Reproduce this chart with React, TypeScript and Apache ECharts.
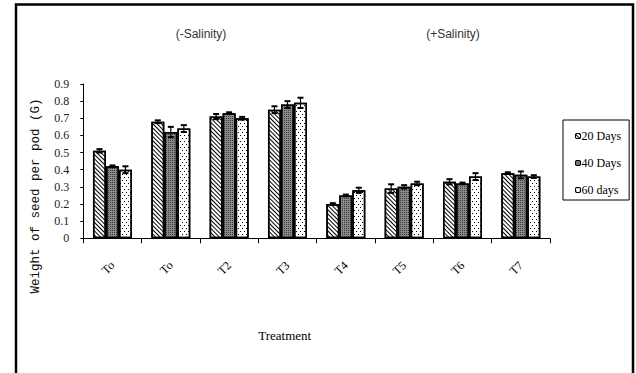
import React, { useEffect, useRef } from "react";
import * as echarts from "echarts";

const categories = ["To", "To", "T2", "T3", "T4", "T5", "T6", "T7"];
const seriesNames = ["20 Days", "40 Days", "60 days"];
const days20 = [0.51, 0.68, 0.71, 0.75, 0.2, 0.29, 0.33, 0.38];
const days40 = [0.42, 0.62, 0.73, 0.78, 0.25, 0.3, 0.32, 0.37];
const days60 = [0.4, 0.64, 0.7, 0.79, 0.28, 0.32, 0.36, 0.36];
const err20 = [0.01, 0.008, 0.015, 0.02, 0.005, 0.025, 0.015, 0.005];
const err40 = [0.005, 0.03, 0.005, 0.02, 0.005, 0.01, 0.005, 0.02];
const err60 = [0.02, 0.02, 0.008, 0.03, 0.015, 0.01, 0.02, 0.008];
const yTicks = [0, 0.1, 0.2, 0.3, 0.4, 0.5, 0.6, 0.7, 0.8, 0.9];
const groupTitles = ["(-Salinity)", "(+Salinity)"];
const yAxisTitle = "Weight of seed per pod (G)";
const xAxisTitle = "Treatment";

const BAR_W = 13;

const decals = [
  {
    symbol: "rect",
    symbolSize: 1,
    color: "#000",
    dashArrayX: [1, 0],
    dashArrayY: [1, 2],
    rotation: Math.PI / 4,
  },
  {
    symbol: "rect",
    symbolSize: 1,
    color: "#3a3a3a",
    dashArrayX: [1, 1],
    dashArrayY: [1, 1],
    rotation: 0,
  },
  {
    symbol: "rect",
    symbolSize: 1,
    color: "#000",
    dashArrayX: [[1, 3], [0, 2, 1, 1]],
    dashArrayY: [1, 2],
    rotation: 0,
  },
];
const baseColors = ["#ffffff", "#8a8a8a", "#ffffff"];

export default function App() {
  const ref = useRef<HTMLDivElement>(null);
  useEffect(() => {
    if (!ref.current) return;
    const chart = echarts.init(ref.current, null, { renderer: "svg" });
    const values = [days20, days40, days60];
    const errs = [err20, err40, err60];
    const offsets = [-BAR_W, 0, BAR_W];

    const barSeries = values.map((vals, s) => ({
      name: seriesNames[s],
      type: "bar",
      data: vals,
      barWidth: BAR_W,
      barGap: "0%",
      itemStyle: {
        color: baseColors[s],
        borderColor: "#000",
        borderWidth: 1.5,
        decal: decals[s],
      },
      z: 2,
    }));

    const errSeries = values.map((vals, s) => ({
      name: seriesNames[s] + " err",
      type: "custom",
      data: vals.map((v, i) => [i, v, errs[s][i]]),
      encode: { x: 0, y: 1 },
      z: 5,
      silent: true,
      renderItem: (params: any, api: any) => {
        const i = api.value(0);
        const v = api.value(1);
        const e = api.value(2);
        const top = api.coord([i, v + e]);
        const bot = api.coord([i, v - e]);
        const x = top[0] + offsets[s];
        const cap = 3;
        const st = { stroke: "#000", lineWidth: 1.2 };
        const capSt = { stroke: "#000", lineWidth: 2 };
        return {
          type: "group",
          children: [
            { type: "line", shape: { x1: x, y1: top[1], x2: x, y2: bot[1] }, style: st },
            { type: "line", shape: { x1: x - cap, y1: top[1], x2: x + cap, y2: top[1] }, style: capSt },
            { type: "line", shape: { x1: x - cap, y1: bot[1], x2: x + cap, y2: bot[1] }, style: capSt },
          ],
        };
      },
    }));

    chart.setOption({
      animation: false,
      backgroundColor: "#ffffff",
      grid: { left: 83.3, right: 86, top: 84, bottom: 134.7, containLabel: false },
      legend: {
        data: seriesNames,
        orient: "vertical",
        left: 563,
        top: 120,
        width: 63,
        backgroundColor: "#fff",
        borderColor: "#000",
        borderWidth: 1,
        padding: [10, 8, 4, 12],
        itemWidth: 5,
        itemHeight: 5,
        itemGap: 15,
        itemStyle: { borderColor: "#000", borderWidth: 1 },
        textStyle: { fontFamily: "Liberation Serif", fontSize: 12, color: "#000", padding: [0, 0, 0, -4] },
      },
      xAxis: {
        type: "category",
        data: categories,
        name: xAxisTitle,
        nameLocation: "middle",
        nameGap: 91,
        nameTextStyle: { fontFamily: "Liberation Serif", fontSize: 13, color: "#000", padding: [0, 64, 0, 0] },
        axisLine: { lineStyle: { color: "#000", width: 1 } },
        axisTick: { show: true, length: 5, lineStyle: { color: "#000" } },
        axisLabel: { rotate: 45, margin: 25, fontFamily: "Liberation Serif", fontSize: 12, color: "#000" },
      },
      yAxis: {
        type: "value",
        min: 0,
        max: 0.9,
        interval: 0.1,
        axisLine: { show: true, lineStyle: { color: "#000", width: 1 } },
        axisTick: { show: true, length: 3, lineStyle: { color: "#000" } },
        splitLine: { show: false },
        axisLabel: {
          margin: 14,
          fontFamily: "Liberation Serif",
          fontSize: 12,
          color: "#222",
          formatter: (v: number) => {
            const t = yTicks.find((k) => Math.abs(k - v) < 1e-9);
            return t === undefined ? "" : String(t);
          },
        },
      },
      graphic: [
        {
          type: "rect",
          shape: { x: 16, y: 4.5, width: 617, height: 420 },
          style: { fill: "none", stroke: "#000", lineWidth: 2.5 },
          silent: true,
          z: 100,
        },
        {
          type: "text",
          x: 201,
          y: 34,
          style: { text: groupTitles[0], fontFamily: "Liberation Sans", fontSize: 12, fill: "#333", align: "center", verticalAlign: "middle" },
        },
        {
          type: "text",
          x: 453,
          y: 34,
          style: { text: groupTitles[1], fontFamily: "Liberation Sans", fontSize: 12, fill: "#333", align: "center", verticalAlign: "middle" },
        },
        {
          type: "text",
          x: 36,
          y: 196,
          rotation: Math.PI / 2,
          style: { text: yAxisTitle, fontFamily: "Liberation Mono", fontSize: 12.5, fill: "#111", align: "center", verticalAlign: "middle" },
        },
      ],
      series: [...barSeries, ...errSeries],
    });
    return () => chart.dispose();
  }, []);
  return <div ref={ref} style={{ position: "fixed", left: 0, top: 0, width: 636, height: 373 }} />;
}
